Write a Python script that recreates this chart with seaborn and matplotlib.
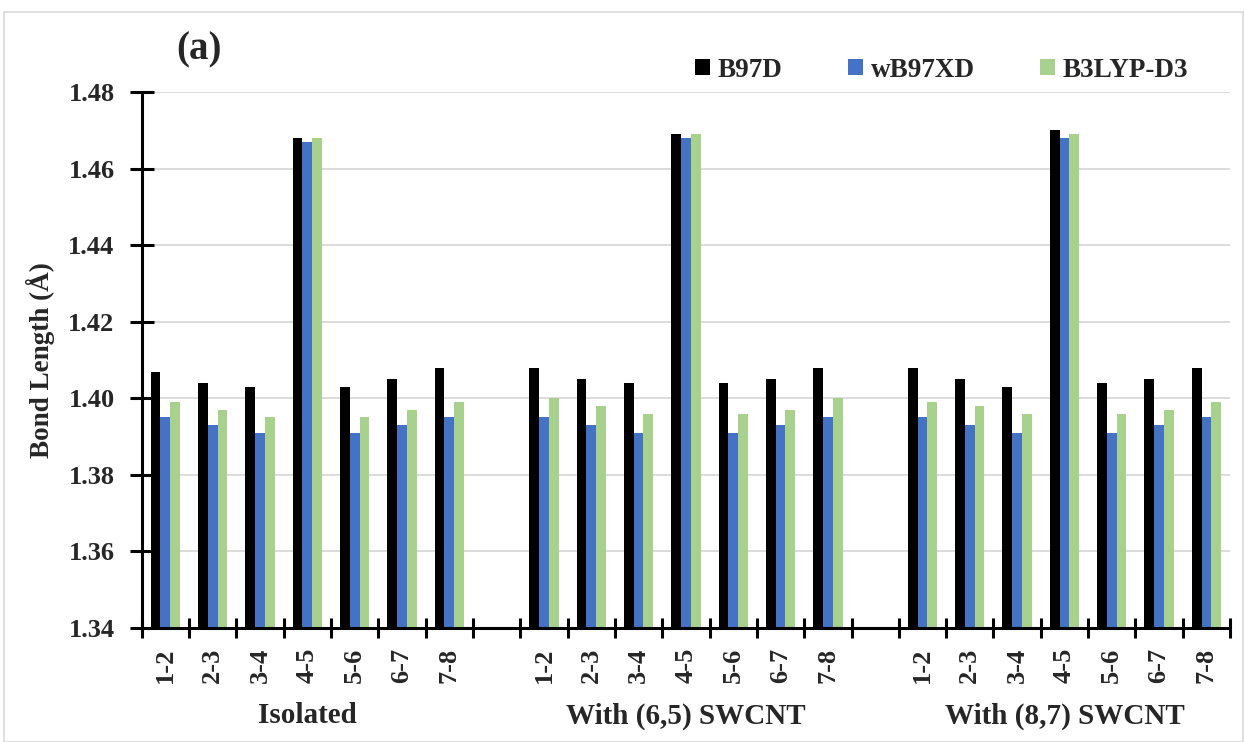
import seaborn as sns
import matplotlib.pyplot as plt
import matplotlib.transforms as mtransforms
from matplotlib.patches import Patch, Rectangle
import pandas as pd
import numpy as np

# datos
bonds = ["1-2", "2-3", "3-4", "4-5", "5-6", "6-7", "7-8"]
groups = ["Isolated", "With (6,5) SWCNT", "With (8,7) SWCNT"]
methods = ["B97D", "wB97XD", "B3LYP-D3"]
colors = ["#000000", "#4472C4", "#A9D18E"]

b97d_iso = [1.407, 1.404, 1.403, 1.468, 1.403, 1.405, 1.408]
wb97xd_iso = [1.395, 1.393, 1.391, 1.467, 1.391, 1.393, 1.395]
b3lyp_iso = [1.399, 1.397, 1.395, 1.468, 1.395, 1.397, 1.399]

b97d_65 = [1.408, 1.405, 1.404, 1.469, 1.404, 1.405, 1.408]
wb97xd_65 = [1.395, 1.393, 1.391, 1.468, 1.391, 1.393, 1.395]
b3lyp_65 = [1.400, 1.398, 1.396, 1.469, 1.396, 1.397, 1.400]

b97d_87 = [1.408, 1.405, 1.403, 1.470, 1.404, 1.405, 1.408]
wb97xd_87 = [1.395, 1.393, 1.391, 1.468, 1.391, 1.393, 1.395]
b3lyp_87 = [1.399, 1.398, 1.396, 1.469, 1.396, 1.397, 1.399]

values = {
    "Isolated": [b97d_iso, wb97xd_iso, b3lyp_iso],
    "With (6,5) SWCNT": [b97d_65, wb97xd_65, b3lyp_65],
    "With (8,7) SWCNT": [b97d_87, wb97xd_87, b3lyp_87],
}

# tabla larga para seaborn
rows = []
for g in groups:
    for m, serie in zip(methods, values[g]):
        for b, v in zip(bonds, serie):
            rows.append({"slot": g + "|" + b, "method": m, "length": v})
df = pd.DataFrame(rows)

# orden de categorias con un hueco entre grupos
order = []
tick_labels = []
for i, g in enumerate(groups):
    for b in bonds:
        order.append(g + "|" + b)
        tick_labels.append(b)
    if i < len(groups) - 1:
        order.append("gap%d" % i)
        tick_labels.append("")

sns.set_style("white")
plt.rcParams["font.family"] = ["Liberation Serif", "DejaVu Serif"]
plt.rcParams["font.weight"] = "bold"

fig = plt.figure(figsize=(12.44, 7.42), dpi=100)
ax = fig.add_axes([0.1139, 0.1536, 0.8749, 0.7224])

sns.barplot(data=df, x="slot", y="length", hue="method", order=order,
            hue_order=methods, palette=colors, width=0.62, gap=0,
            saturation=1, linewidth=0, ax=ax)

ax.set_ylim(1.34, 1.48)
ax.set_xlim(-0.5, len(order) - 0.5)
yt = np.arange(1.34, 1.4801, 0.02)
ax.set_yticks(yt)
ax.set_yticklabels(["%.2f" % t for t in yt], fontsize=19, fontweight="bold")
ax.yaxis.grid(True, color="#d9d9d9", linewidth=1.3)
ax.set_axisbelow(True)

ax.set_xticks(range(len(order)))
ax.set_xticklabels(tick_labels, rotation=90, fontsize=19, fontweight="bold")
ax.set_xticks(np.arange(-0.5, len(order), 1.0), minor=True)
ax.tick_params(axis="x", which="major", bottom=True, length=0, pad=14)
ax.tick_params(axis="x", which="minor", bottom=True, direction="inout",
               length=15, width=2.2, color="black")
ax.tick_params(axis="y", left=True, direction="inout", length=17, width=2.2,
               pad=11, color="black")

for s in ["top", "right"]:
    ax.spines[s].set_visible(False)
for s in ["left", "bottom"]:
    ax.spines[s].set_linewidth(2.2)
    ax.spines[s].set_color("black")

ax.set_xlabel("")
ax.set_ylabel("Bond Length (Å)", fontsize=19.5, fontweight="bold")
ax.yaxis.set_label_coords(-0.08, 0.5)

# etiquetas de grupo
trans = mtransforms.blended_transform_factory(ax.transData, ax.transAxes)
for i, g in enumerate(groups):
    ax.text(i * 8 + 3, -0.164, g, transform=trans, ha="center", va="center",
            fontsize=21, fontweight="bold")

ax.text(0.032, 1.078, "(a)", transform=ax.transAxes, ha="left", va="center",
        fontsize=28, fontweight="bold")

handles = [Patch(facecolor=c, edgecolor="none") for c in colors]
ax.legend(handles, methods, ncol=3, loc="center", bbox_to_anchor=(0.735, 1.041),
          frameon=False, handlelength=0.55, handleheight=0.55, handletextpad=0.3,
          columnspacing=2.4, prop={"size": 19.5, "weight": "bold"})

# marco exterior
fig.patches.append(Rectangle((0.003, 0.0), 0.996, 0.984, transform=fig.transFigure,
                             fill=False, edgecolor="#d9d9d9", linewidth=1.2))

plt.savefig("out.png", dpi=100)
